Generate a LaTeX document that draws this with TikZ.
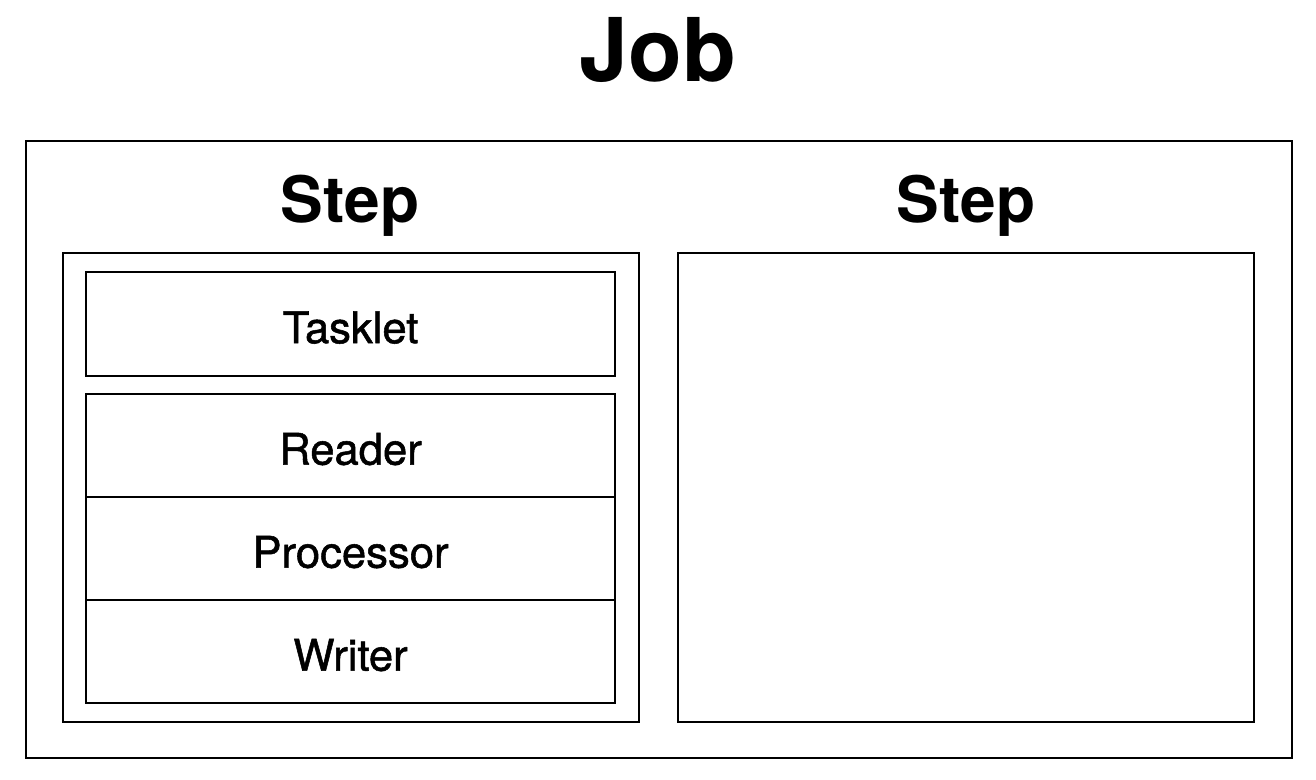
\documentclass[tikz,border=0pt]{standalone}
\usepackage{fontspec}
\setmainfont{TeX Gyre Heros}
\newfontfamily\medfont[FakeBold=1.2]{TeX Gyre Heros}
\usetikzlibrary{positioning}

\begin{document}
\begin{tikzpicture}[
		x=0.01cm, y=-0.01cm,
		MyBox/.style={draw=black, line width=0.6pt, rectangle, inner sep=0pt},
		PartBox/.style={MyBox, minimum width=5.29cm, minimum height=1.03cm,
			text height=10.9pt, text depth=0pt,
			font=\medfont\fontsize{12.4}{15}\selectfont},
		StepBox/.style={MyBox, minimum width=5.76cm, minimum height=4.69cm},
		JobTitle/.style={anchor=base, font=\bfseries\fontsize{25}{30}\selectfont},
		StepTitle/.style={anchor=base, font=\bfseries\fontsize{18.2}{22}\selectfont}
		]
		
		\useasboundingbox (0,0) rectangle (1316,780);
		
		% outer job frame
		\node[MyBox, minimum width=12.66cm, minimum height=6.17cm] (job) at (659,449.5) {};
		\node[JobTitle] (jobtitle) at (658,82) {Job};
		
		% the two steps
		\node[StepBox] (stepA) at (351,487.5) {};
		\node[StepBox] (stepB) at (966,487.5) {};
		\node[StepTitle] (stepAtitle) at (350,223) {Step};
		\node[StepTitle] (stepBtitle) at (966,223) {Step};
		
		% parts of the first step
		\node[PartBox, minimum height=1.04cm] (tasklet) at (350.5,324) {Tasklet};
		\node[PartBox] (reader) at (350.5,445.5) {Reader};
		\node[PartBox] (processor) at (350.5,548.5) {Processor};
		\node[PartBox] (writer) at (350.5,651.5) {Writer};
		
\end{tikzpicture}
\end{document}
